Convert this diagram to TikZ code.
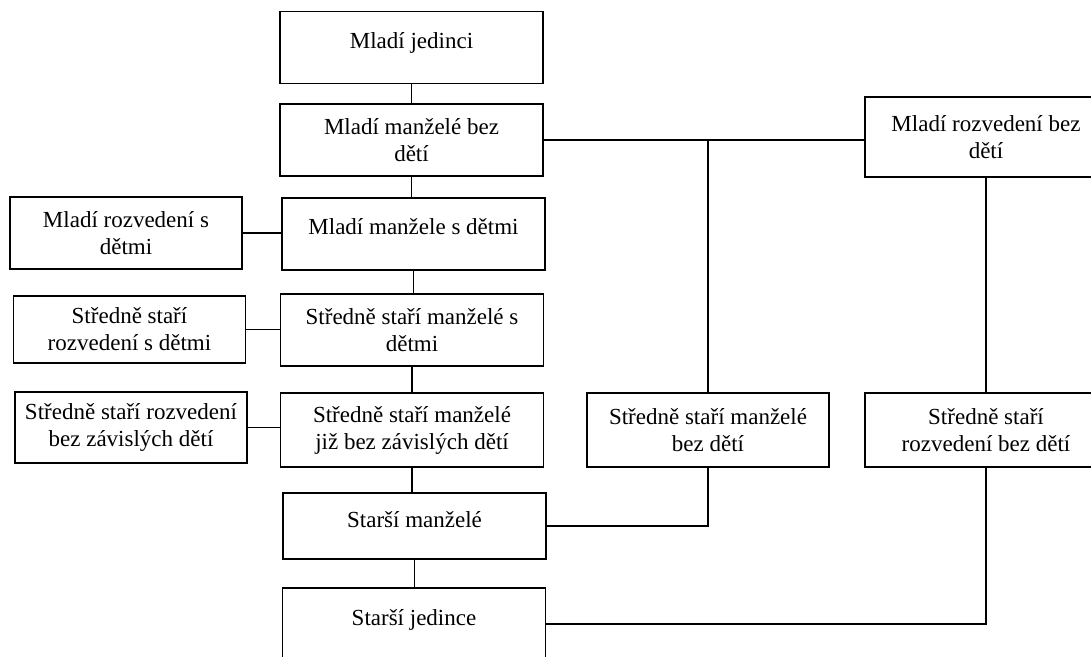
\documentclass[tikz,border=0pt]{standalone}
\usepackage{fontspec}
\setmainfont{Liberation Serif}
\usepackage{xcolor}

\begin{document}
\begin{tikzpicture}[x=0.5pt,y=-0.5pt,
    box/.style={draw,rectangle,line width=0.6pt,inner sep=0pt,align=center,minimum height=36pt,font=\fontsize{11.5}{13.5}\selectfont},
    mainbox/.style={box,minimum width=131.5pt},
    sidebox/.style={box,minimum width=116pt},
    rightbox/.style={box,minimum width=121pt},
    oneline/.style={text depth=7pt},
    link/.style={line width=0.6pt}]
        \clip (0,0) rectangle (1091,657);
        \fill[white] (0,0) rectangle (1091,657);

        % main column
        \node[mainbox,oneline] (mj) at (411.5,47.5) {Mladí jedinci};
        \node[mainbox] (mmbd) at (411.5,140) {Mladí manželé bez\\dětí};
        \node[mainbox,oneline] (mmsd) at (413.5,234) {Mladí manžele s dětmi};
        \node[mainbox] (ssmsd) at (412,330) {Středně staří manželé s\\dětmi};
        \node[mainbox,minimum height=37pt] (ssmjb) at (412,430) {Středně staří manželé\\již bez závislých dětí};
        \node[mainbox,oneline,minimum height=33pt] (sm) at (414.5,526) {Starší manželé};
        \node[mainbox,oneline] (sj) at (414,624) {Starší jedince};

        % divorced with children
        \node[sidebox] (mrsd) at (126,233) {Mladí rozvedení s\\dětmi};
        \node[sidebox,minimum height=33.5pt] (ssrsd) at (129.5,329.5) {Středně staří\\rozvedení s dětmi};
        \node[sidebox,minimum height=35.5pt] (ssrbz) at (131,427.5) {Středně staří rozvedení\\bez závislých dětí};

        % without children
        \node[rightbox,minimum height=40pt] (mrbd) at (986,137) {Mladí rozvedení bez\\dětí};
        \node[rightbox,minimum height=37pt] (ssmbd) at (708,430) {Středně staří manželé\\bez dětí};
        \node[rightbox,minimum height=37pt] (ssrbd) at (986,430) {Středně staří\\rozvedení bez dětí};

        \draw[link] (mj.south) -- (mj.south |- mmbd.north);
        \draw[link] (mmbd.south) -- (mmbd.south |- mmsd.north);
        \draw[link] (mmsd.south) -- (mmsd.south |- ssmsd.north);
        \draw[link] (ssmsd.south) -- (ssmsd.south |- ssmjb.north);
        \draw[link] (ssmjb.south) -- (ssmjb.south |- sm.north);
        \draw[link] (sm.south) -- (sm.south |- sj.north);

        \draw[link] (mrsd.east) -- (mrsd.east -| mmsd.west);
        \draw[link] (ssrsd.east) -- (ssrsd.east -| ssmsd.west);
        \draw[link] (ssrbz.east) -- (ssrbz.east -| ssmjb.west);

        \draw[link] (mmbd.east) -- (mmbd.east -| mrbd.west);
        \draw[link] (ssmbd.north |- mmbd.east) -- (ssmbd.north);
        \draw[link] (ssmbd.south) |- (sm.east);
        \draw[link] (mrbd.south) -- (ssrbd.north);
        \draw[link] (ssrbd.south) |- (sj.east);
    \end{tikzpicture}
\end{document}
